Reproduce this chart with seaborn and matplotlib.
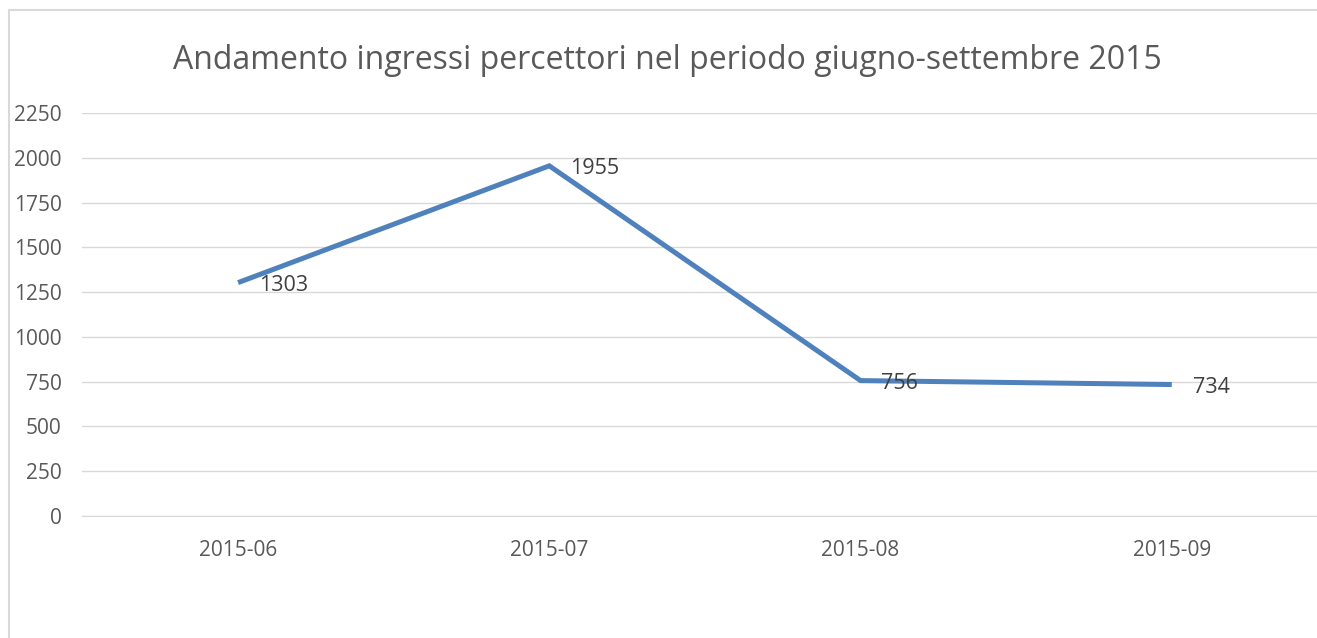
import matplotlib
matplotlib.use("Agg")
import matplotlib.pyplot as plt
import matplotlib.patches as patches
import seaborn as sns

# data
months = ["2015-06", "2015-07", "2015-08", "2015-09"]
ingressi = [1303, 1955, 756, 734]
yticks = [0, 250, 500, 750, 1000, 1250, 1500, 1750, 2000, 2250]

sns.set_style("white")
plt.rcParams["font.family"] = ["Open Sans", "DejaVu Sans"]

text_col = "#595959"
line_col = "#4F81BD"

fig = plt.figure(figsize=(13.17, 6.38), dpi=100)
ax = fig.add_axes([0.0626, 0.1912, 0.9453, 0.6317])

sns.lineplot(x=months, y=ingressi, ax=ax, color=line_col, linewidth=3.6,
             solid_joinstyle="miter", solid_capstyle="butt")

# data labels to the right of each point
for i, v in enumerate(ingressi):
    ax.annotate(str(v), (i, v), xytext=(15, -2), textcoords="offset points",
                ha="left", va="center", fontsize=15.5, color="#404040")

ax.set_xlim(-0.5, 3.5)
ax.set_ylim(0, 2250)
ax.set_yticks(yticks)
ax.yaxis.grid(True, color="#D9D9D9", linewidth=1)
ax.set_axisbelow(True)
for s in ax.spines.values():
    s.set_visible(False)
ax.spines["bottom"].set_visible(True)
ax.spines["bottom"].set_color("#D9D9D9")
ax.tick_params(axis="y", length=0, pad=15, labelsize=15, labelcolor=text_col)
ax.tick_params(axis="x", length=0, pad=17, labelsize=15, labelcolor=text_col)
ax.set_xlabel("")
ax.set_ylabel("")

fig.text(0.507, 0.905, "Andamento ingressi percettori nel periodo giugno-settembre 2015",
         ha="center", va="center", fontsize=23, color=text_col)

# chart area frame
fig.patches.append(patches.Rectangle((9 / 1317, -0.05), 1.2, 1 - 10 / 638 + 0.05,
                                     transform=fig.transFigure, fill=False,
                                     edgecolor="#D9D9D9", linewidth=1.5))

fig.savefig("out.png", dpi=100, facecolor="white")
